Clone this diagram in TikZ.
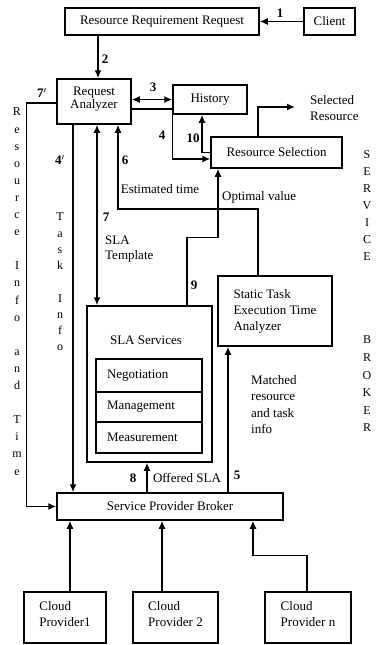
\documentclass[tikz,border=0pt]{standalone}
\usepackage{fontspec}
\setmainfont{Liberation Serif}
\usetikzlibrary{arrows.meta,calc}
\begin{document}
\begin{tikzpicture}[x=1pt,y=-1pt,
  box/.style={draw,line width=1.5pt,font=\fontsize{13}{16}\selectfont},
  slot/.style={box,minimum width=106pt,text width=84pt,inner xsep=11pt,align=left},
  txt/.style={font=\fontsize{13}{16}\selectfont,inner sep=0pt},
  num/.style={font=\bfseries\fontsize{13}{16}\selectfont,inner sep=0pt},
  vword/.style={align=center,inner sep=0pt},
  arr/.style={line width=1.5pt,-{Latex[length=8pt,width=7pt]}},
  dblarr/.style={line width=1.5pt,{Latex[length=8pt,width=7pt]}-{Latex[length=8pt,width=7pt]}}]
\useasboundingbox (0,0) rectangle (376,645);
% Set top row
\draw (162,21.5) node(rrr)[box,minimum width=194pt,minimum height=27pt] {Resource Requirement Request};
\draw (329.5,21.5) node(client)[box,minimum width=51pt,minimum height=27pt] {Client};
% Set analyzer row
\draw (94,101.5) node(ra)[box,minimum width=74pt,minimum height=45pt,align=center,text depth=8pt,font=\fontsize{13}{13}\selectfont] {Request\\Analyzer};
\draw (210,99.5) node(hist)[box,minimum width=74pt,minimum height=29pt] {History};
\draw (276.5,152.5) node(rs)[box,minimum width=131pt,minimum height=31pt] {Resource Selection};
\draw (310,108) node(sel)[txt,anchor=west,align=left] {Selected\\Resource};
% Set SLA services
\draw (149.5,384) node(sla)[box,minimum width=125pt,minimum height=156pt] {};
\draw (146,340) node(slat)[txt] {SLA Services};
\draw (149,375.5) node(neg)[slot,minimum height=33pt] {Negotiation};
\draw (149,407) node(mgmt)[slot,minimum height=30pt] {Management};
\draw (149,437.5) node(meas)[slot,minimum height=31pt] {Measurement};
% Set time analyzer and broker
\draw (275,311) node(steta)[box,minimum width=114pt,minimum height=70pt,align=left] {Static Task\\Execution Time\\Analyzer};
\draw (170,506.5) node(spb)[box,minimum width=226pt,minimum height=27pt] {Service Provider Broker};
% Set providers
\draw (65,617.5) node(cp1)[box,minimum width=82pt,minimum height=51pt,align=left,text depth=8pt] {Cloud\\Provider1};
\draw (175.5,617.5) node(cp2)[box,minimum width=85pt,minimum height=51pt,align=left,text depth=8pt] {Cloud\\Provider 2};
\draw (308,617.5) node(cpn)[box,minimum width=86pt,minimum height=51pt,align=left,text depth=8pt] {Cloud\\Provider n};
% Step numbers
\draw (280,13) node(l1)[num] {1};
\draw (105,59) node(l2)[num] {2};
\draw (153,87) node(l3)[num] {3};
\draw (162,135) node(l4)[num] {4};
\draw (193,138) node(l10)[num] {10};
\draw (125,160) node(l6)[num] {6};
\draw (106,217) node(l7)[num] {7};
\draw (194,285) node(l9)[num] {9};
\draw (133,478) node(l8)[num] {8};
\draw (237,475) node(l5)[num] {5};
\draw (60,160) node(l4p)[num] {4$'$};
\draw (42,93) node(l7p)[num] {7$'$};
% Arrow texts
\draw (160,189) node(est)[txt] {Estimated time};
\draw (222,197) node(opt)[txt,anchor=west] {Optimal value};
\draw (105,249.5) node(tmpl)[txt,anchor=west,align=left,font=\fontsize{13}{15}\selectfont] {SLA\\Template};
\draw (187,478) node(off)[txt] {Offered SLA};
\draw (251,404.5) node(match)[txt,anchor=west,align=left,font=\fontsize{13}{16.3}\selectfont] {Matched\\resource\\and task\\info};
% Vertical words
\draw (17,291.6) node(resinfo)[vword,font=\fontsize{12}{17.1}\selectfont] {R\\e\\s\\o\\u\\r\\c\\e\\\mbox{}\\I\\n\\f\\o\\\mbox{}\\a\\n\\d\\\mbox{}\\T\\i\\m\\e};
\draw (60,282) node(taskinfo)[vword,font=\fontsize{12}{16.25}\selectfont] {T\\a\\s\\k\\\mbox{}\\I\\n\\f\\o};
\draw (367,206) node(service)[vword,font=\fontsize{12}{17}\selectfont] {S\\E\\R\\V\\I\\C\\E};
\draw (367,384) node(broker)[vword,font=\fontsize{12}{17.6}\selectfont] {B\\R\\O\\K\\E\\R};
% Arrows request
\draw[arr] (client) -- (rrr);
\draw[arr] ($(rrr.south)+(-64,0)$) -- ($(ra.north)+(4,0)$);
\draw[dblarr] (ra.east |- hist.west) -- (hist.west);
\draw[arr] ($(ra.east)+(0,7.5)$) -| ($(hist.west)+(0,59.5)$) -- ($(rs.west)+(0,6.5)$);
\draw[arr] (rs.west) -| ($(hist.south)+(-8,0)$);
\draw[arr] ($(rs.north)+(-18.5,0)$) |- ($(sel.west)+(-15,-1)$);
% Arrows analyzer
\draw[arr] ($(steta.north)+(-17,0)$) |- ($(ra.south)+(24,84)$) -- ($(ra.south)+(24,0)$);
\draw[dblarr] ($(ra.south)+(3,0)$) -- ($(sla.north)+(-52.5,0)$);
\draw[arr] ($(ra.south)+(-21,0)$) -- ($(spb.north)+(-97,0)$);
\draw[arr] ($(ra.west)+(0,1.5)$) -- ++(-30,0) |- (spb.west);
% Arrows broker
\draw[arr] ($(sla.north)+(37.5,0)$) -- ++(0,-68) -| ($(rs.south)+(-58.5,0)$);
\draw[arr] ($(spb.north)+(-23,0)$) -- ($(sla.south)+(-2.5,0)$);
\draw[arr] ($(spb.north)+(58,0)$) -- ($(steta.south)+(-47,0)$);
% Arrows providers
\draw[arr] ($(cp1.north)+(5,0)$) -- ($(spb.south)+(-100,0)$);
\draw[arr] ($(cp2.north)+(-13.5,0)$) -- ($(spb.south)+(-8,0)$);
\draw[arr] ($(cpn.north)+(-1,0)$) -- ++(0,-36) -| ($(spb.south)+(83,0)$);
\end{tikzpicture}
\end{document}
